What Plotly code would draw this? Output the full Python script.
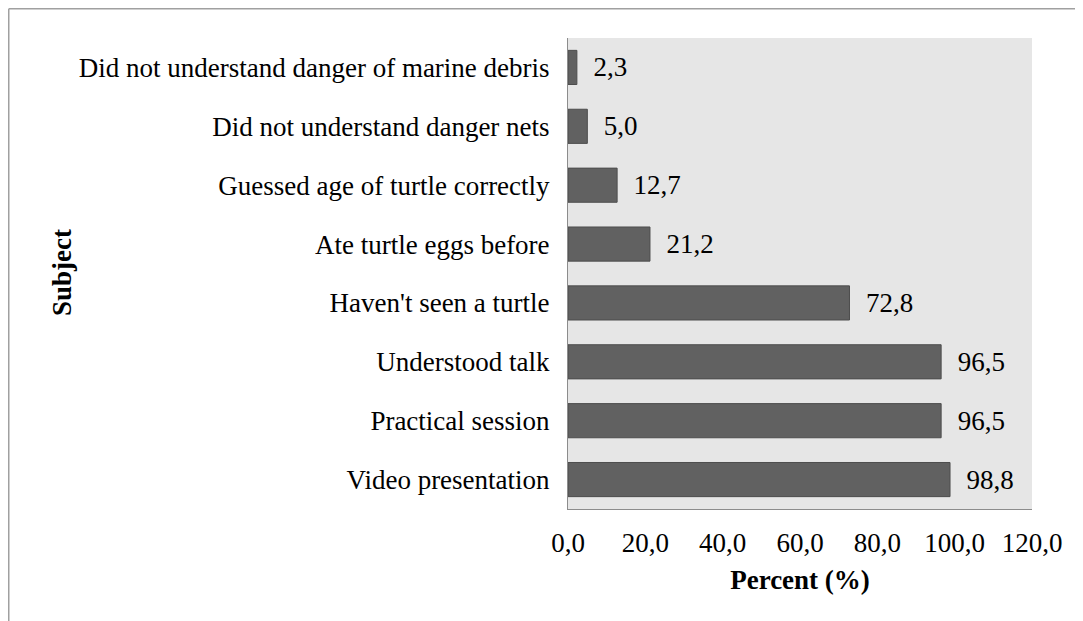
import plotly.graph_objects as go

categories = [
    "Video presentation",
    "Practical session",
    "Understood talk",
    "Haven't seen a turtle",
    "Ate turtle eggs before",
    "Guessed age of turtle correctly",
    "Did not understand danger nets",
    "Did not understand danger of marine debris",
]
percent = [98.8, 96.5, 96.5, 72.8, 21.2, 12.7, 5.0, 2.3]
x_ticks = [0, 20, 40, 60, 80, 100, 120]

# page body has an 8px margin, so figure coordinates are offset by 8
W, H = 1075, 613
L, R, T, B = 560, 1024, 30, 501
pw, ph = R - L, B - T

FONT = "Liberation Serif, Times New Roman, serif"
FS = 27

fig = go.Figure(go.Bar(
    x=percent, y=categories, orientation="h",
    marker=dict(color="#616161", line=dict(color="#4d4d4d", width=1)),
    width=0.58,
    texttemplate="  %{x:.1f}", textposition="outside",
    textfont=dict(family=FONT, size=FS, color="#000000"),
    cliponaxis=False,
))

def px_x(p):
    return (p - L) / pw

def px_y(p):
    return (B - p) / ph

fig.update_layout(
    width=W, height=H,
    margin=dict(l=L, r=W - R, t=T, b=H - B, pad=0),
    paper_bgcolor="white", plot_bgcolor="#e6e6e6",
    separators=", ",
    font=dict(family=FONT, size=FS, color="#000000"),
    showlegend=False,
    xaxis=dict(
        range=[0, 120], tickvals=x_ticks, tickformat=".1f",
        showgrid=False, zeroline=False,
        showline=True, linecolor="#8c8c8c", linewidth=1,
        ticks="", ticklabelstandoff=10,
        title=dict(text="<b>Percent (%)</b>", font=dict(size=FS), standoff=12),
    ),
    yaxis=dict(
        showgrid=False, zeroline=False,
        showline=True, linecolor="#8c8c8c", linewidth=1,
        ticks="", ticklabelstandoff=12,
        range=[-0.5, 7.5],
    ),
    shapes=[
        dict(type="line", xref="paper", yref="paper",
             x0=px_x(0.75), x1=px_x(W + 5), y0=px_y(0.75), y1=px_y(0.75),
             line=dict(color="#a0a0a0", width=1.5)),
        dict(type="line", xref="paper", yref="paper",
             x0=px_x(0.75), x1=px_x(0.75), y0=px_y(0.75), y1=px_y(H + 5),
             line=dict(color="#a0a0a0", width=1.5)),
    ],
    annotations=[
        dict(text="<b>Subject</b>", xref="paper", yref="paper",
             x=px_x(54), y=px_y(265), textangle=-90, showarrow=False,
             font=dict(family=FONT, size=FS, color="#000000"),
             xanchor="center", yanchor="middle"),
    ],
)

fig.write_html("out.html")
